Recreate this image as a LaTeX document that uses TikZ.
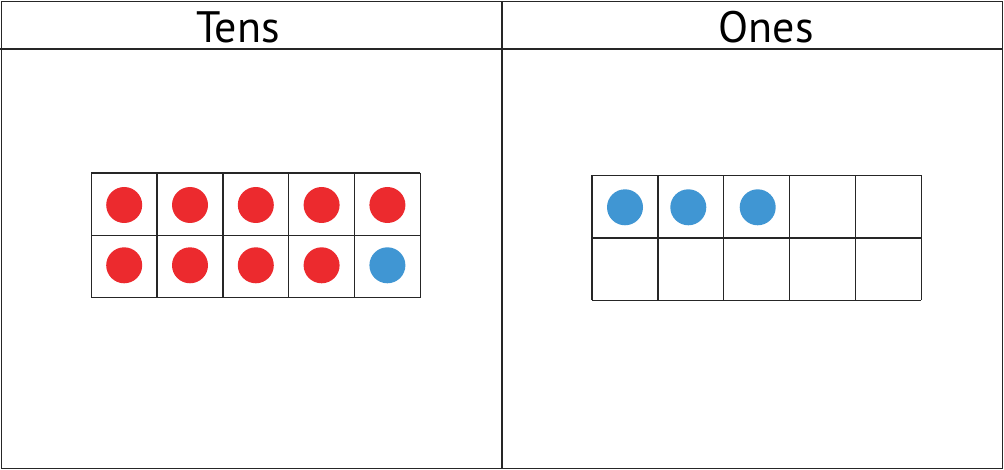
\documentclass[tikz,border=0pt]{standalone}
\usepackage{fontspec}
\setmainfont{PT Sans}
\definecolor{dotred}{RGB}{236,42,46}
\definecolor{dotblue}{RGB}{64,150,211}
\begin{document}
\begin{tikzpicture}[x=1pt,y=-1pt,
  frame/.style={draw=black!85,line width=1.3pt},
  grid/.style={draw=black!85,line width=1.3pt},
  dotr/.style={circle,fill=dotred,inner sep=0pt,minimum size=36pt},
  dotb/.style={circle,fill=dotblue,inner sep=0pt,minimum size=36pt},
  head/.style={inner sep=0pt,anchor=base,font=\fontsize{44}{44}\selectfont}]
\useasboundingbox (0,0) rectangle (1004,470);
% outer frame
\draw[frame] (1.5,1.5) rectangle (1002.5,468.5);
\draw[frame] (0,49) -- (1002.5,49);
\draw[frame] (502,1.5) -- (502,468.5);
\node[head] (tens) at (238,42.5) {Tens};
\node[head] (ones) at (766,42.5) {Ones};
% left ten frame
\foreach \i in {0,...,5} \draw[grid] (91.3+65.8*\i,173) -- (91.3+65.8*\i,297.7);
\draw[grid] (91.3,173) -- (420.3,173);
\draw[grid] (91.3,235.7) -- (420.3,235.7);
\draw[grid] (91.3,297.7) -- (420.3,297.7);
\foreach \i in {0,...,4} {
  \node[dotr] (lt\i) at (124.2+65.8*\i,205) {};
}
\foreach \i in {0,...,3} {
  \node[dotr] (lb\i) at (124.2+65.8*\i,265.3) {};
}
\node[dotb] (lb4) at (387.4,265.3) {};
% right ten frame
\foreach \i in {0,...,5} \draw[grid] (592+65.86*\i,175.3) -- (592+65.86*\i,300.3);
\draw[grid] (592,175.3) -- (921.3,175.3);
\draw[grid] (592,238) -- (921.3,238);
\draw[grid] (592,300.3) -- (921.3,300.3);
\node[dotb] (r0) at (625,207.3) {};
\node[dotb] (r1) at (688.3,207.3) {};
\node[dotb] (r2) at (757.7,207.3) {};
\end{tikzpicture}
\end{document}
